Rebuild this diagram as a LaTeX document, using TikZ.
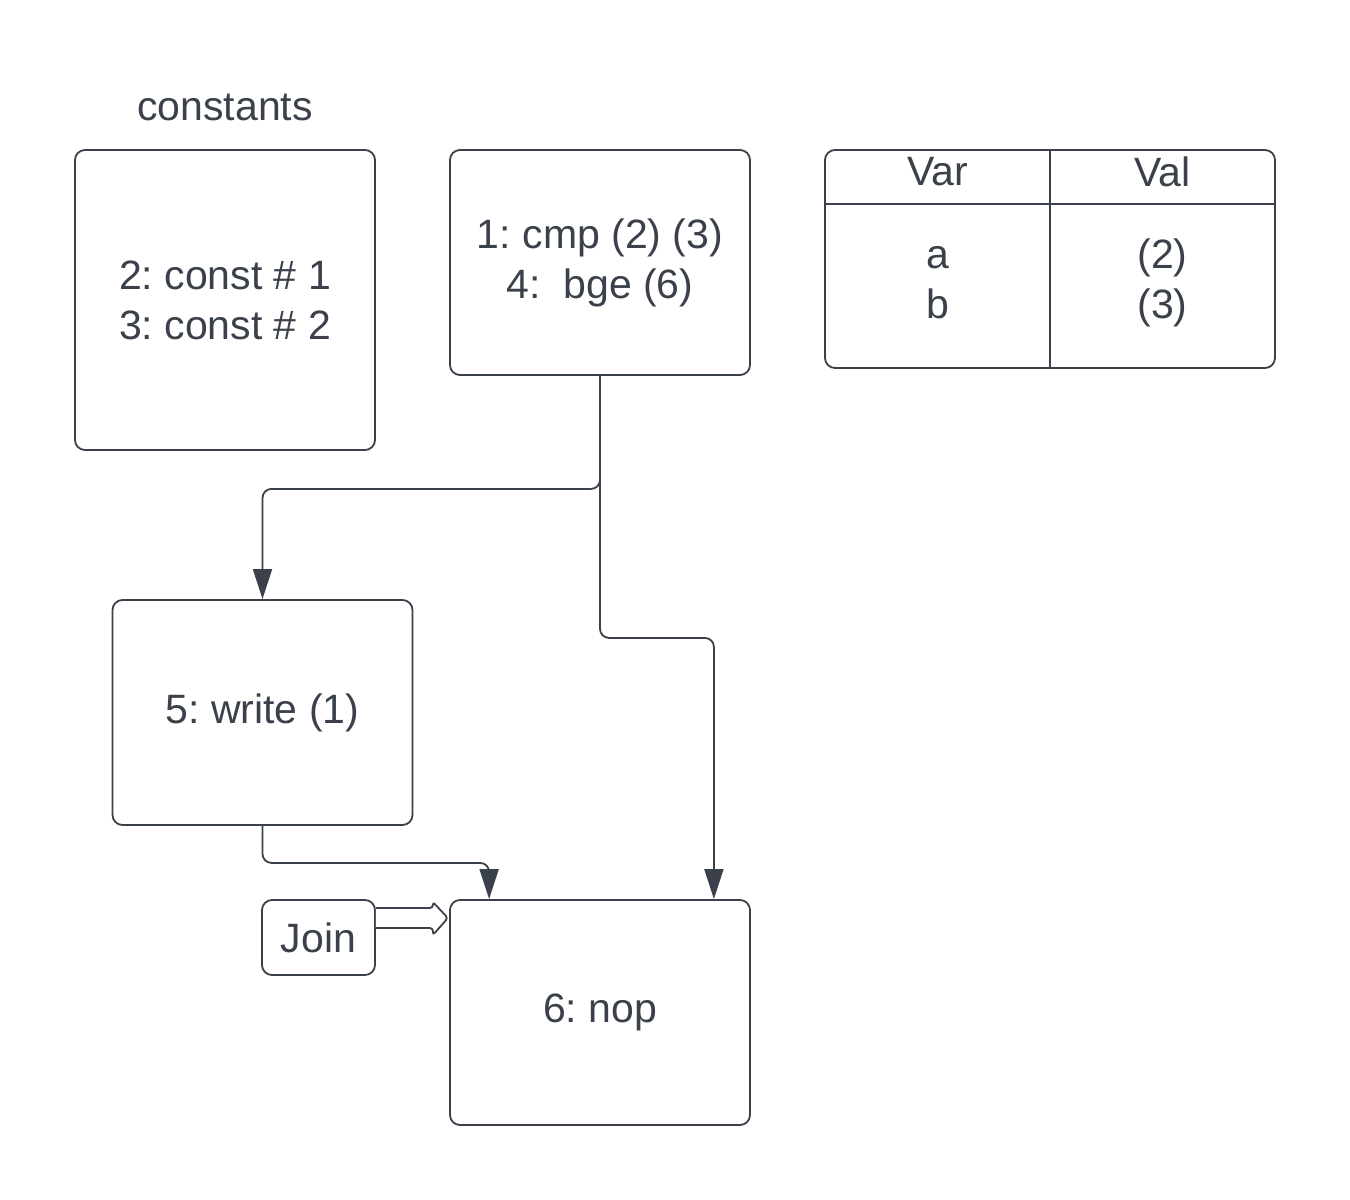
\documentclass[tikz,border=0pt]{standalone}
\usepackage{fontspec}
\setmainfont{Liberation Sans}
\usepackage{xcolor}
\usepackage{tikz}
\usetikzlibrary{arrows.meta,calc}
\definecolor{ink}{RGB}{58, 65, 74}
\frenchspacing

\begin{document}
\begin{tikzpicture}[x=1pt,y=1pt,yscale=-1,xscale=1,
  box/.style={draw=ink, line width=1.8pt, rounded corners=10pt, align=center, text=ink, inner sep=0pt, font=\fontsize{41}{50}\selectfont},
  lbl/.style={text=ink, align=center, inner sep=0pt, font=\fontsize{41}{50}\selectfont},
  conn/.style={draw=ink, line width=1.8pt, rounded corners=9pt, -{Triangle[length=30pt,width=19pt]}}]
\useasboundingbox (0,0) rectangle (1350,1200);

% Text Node
\node [lbl] (title) at (225,107) {constants};
%Shape: Rectangle
\node [box, minimum width=300pt, minimum height=300pt] (consts) at (225,300) {2: const \# 1\\3: const \# 2};
%Shape: Rectangle
\node [box, minimum width=300pt, minimum height=225pt] (cmp) at (600,262.5) {1: cmp (2) (3)\\4: \ bge (6)};
%Shape: Rectangle
\node [box, minimum width=300pt, minimum height=225pt] (write) at (262.5,712.5) {5: write (1)};
%Shape: Rectangle
\node [box, minimum width=300pt, minimum height=225pt] (nop) at (600,1012.5) {6: nop};
%Shape: Rectangle
\node [box, minimum width=113pt, minimum height=75pt] (join) at (318.5,937.5) {Join};

%Shape: Table
\node [box, minimum width=450pt, minimum height=218pt] (tab) at (1050,259) {};
\draw [ink, line width=1.8pt] (tab.west |- 0,204) -- (tab.east |- 0,204);
\draw [ink, line width=1.8pt] (tab.north) -- (tab.south);
% Text Node
\node [lbl] (var) at (937.5,172) {Var};
% Text Node
\node [lbl] (val) at (1162.5,172) {Val};
% Text Node
\node [lbl] (names) at (937.5,283) {a\\b};
% Text Node
\node [lbl] (vals) at (1162.5,283) {(2)\\(3)};

%Straight Lines
\draw [conn] (cmp.south) -- ++(0,113) -| (write.north);
%Straight Lines
\draw [conn] (cmp.south) -- ++(0,262) -| ($(nop.north east)+(-37,0)$);
%Straight Lines
\draw [conn] (write.south) -- ++(0,37) -| ($(nop.north west)+(40,0)$);
%Shape: Right Arrow
\draw [ink, line width=1.8pt, rounded corners=3pt, fill=white] ($(join.east)+(0,-29.5)$) -- ++(57,0) -- ++(0,-6) -- ++(15,16) -- ++(-15,17) -- ++(0,-7) -- ++(-57,0);

\end{tikzpicture}
\end{document}
